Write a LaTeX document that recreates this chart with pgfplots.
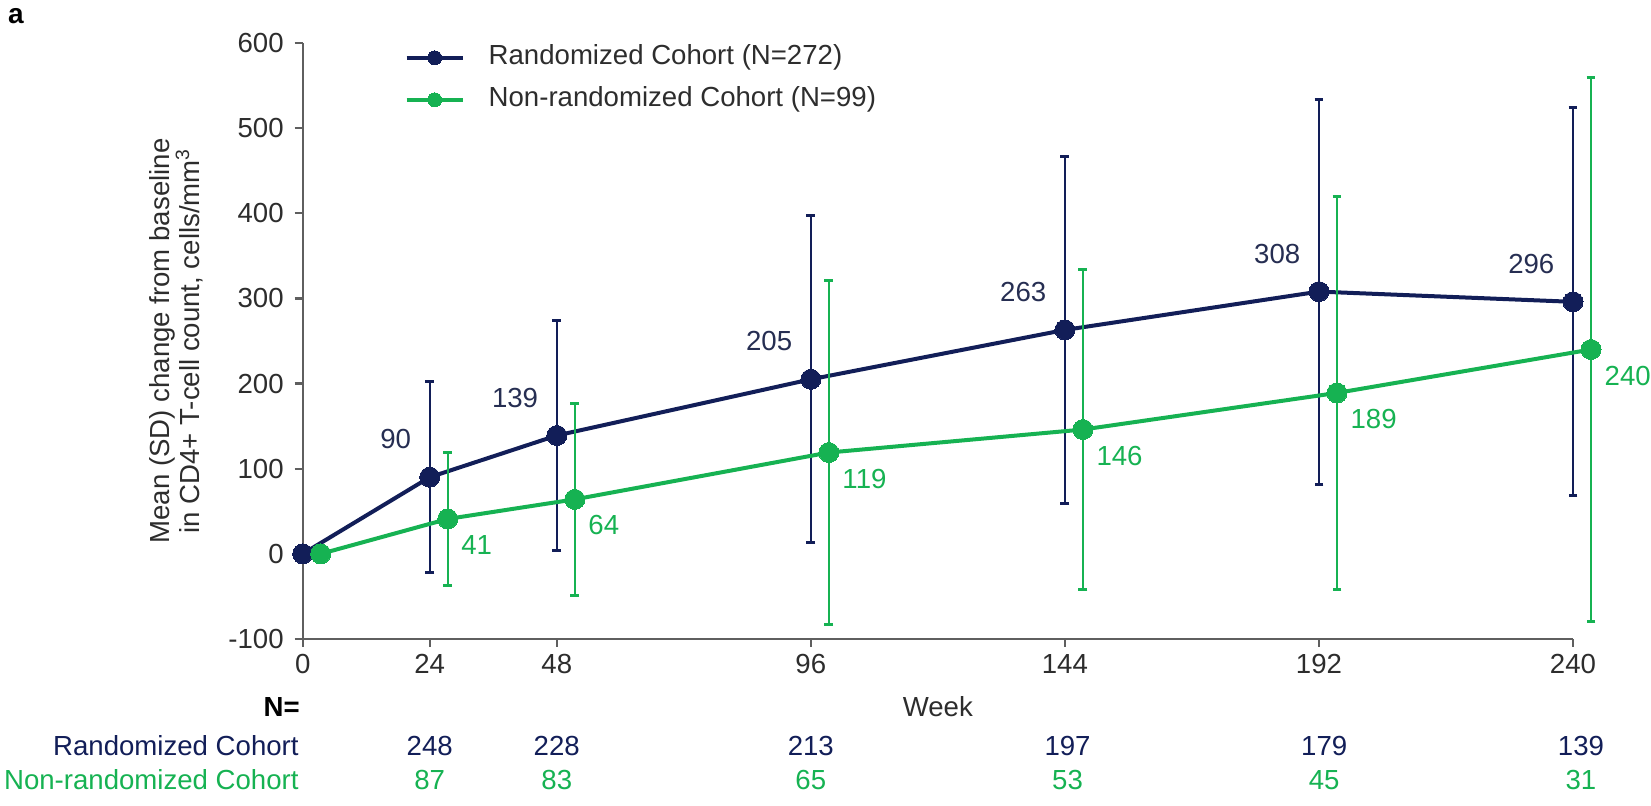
\documentclass[border=0pt]{standalone}
\usepackage{pgfplots}
\pgfplotsset{compat=1.18}
\usepackage{pgfplotstable}
\usepackage{fontspec}
\setmainfont{Liberation Sans}
\definecolor{navy}{RGB}{18,30,88}
\definecolor{navytxt}{RGB}{38,46,82}
\definecolor{grn}{RGB}{22,178,82}
\definecolor{axgray}{RGB}{95,95,95}
\definecolor{txt}{RGB}{45,45,45}

\pgfplotstableread{
x y e lab
0 0 0 {}
24 90 112 90
48 139 135 139
96 205 192 205
144 263 204 263
192 308 226 308
240 296 228 296
}\randtab
\pgfplotstableread{
x y e lab
3.4 0 0 {}
27.4 41 78 41
51.4 64 113 64
99.4 119 202 119
147.4 146 188 146
195.4 189 231 189
243.4 240 320 240
}\nonrandtab

\begin{document}
\begin{tikzpicture}[font=\fontsize{13.8}{15}\selectfont]
\useasboundingbox (0,0) rectangle (825.5pt,403pt);
\node[font=\fontsize{14}{16}\selectfont\bfseries, text=black] at (8pt,395pt) {a};
\begin{axis}[
  at={(151.35pt,83.5pt)}, anchor=south west,
  scale only axis, width=635.15pt, height=298pt,
  xmin=0, xmax=240, ymin=-100, ymax=600,
  axis lines=left, axis line style={-, draw=axgray, line width=1.1pt},
  xtick={0,24,48,96,144,192,240},
  ytick={-100,0,100,200,300,400,500,600},
  tick align=outside, major tick length=4pt,
  tick style={draw=axgray, line width=1.1pt},
  /pgf/number format/assume math mode=true,
  ticklabel style={text=txt},
  yticklabel style={xshift=-2pt},
  clip=false,
  ylabel={Mean (SD) change from baseline\\in CD4+ T-cell count, cells/mm\textsuperscript{3}},
  ylabel style={align=center, text=txt, at={(axis description cs:-0.0995,0.5)}, anchor=center},
  xlabel={Week},
  xlabel style={text=txt, at={(axis description cs:0.5,0)}, anchor=mid, yshift=-36pt},
  legend style={at={(axis description cs:0,1)}, anchor=north west, xshift=51pt, yshift=-1pt,
    draw=none, fill=none, inner sep=0pt, outer sep=0pt, row sep=8.2pt,
    nodes={inner sep=0pt, text height=9.9pt, text depth=2.9pt, text=txt},
    /tikz/every odd column/.append style={column sep=12pt}},
  legend cell align=left,
  legend image code/.code={\draw[#1, mark size=3.5pt, mark repeat=2, mark phase=2] plot coordinates {(0pt,0pt) (14pt,0pt) (28pt,0pt)};},
]
\addplot[navy, line width=2pt, mark=*, mark size=5pt, mark options={fill=navy, draw=navy, line width=0pt},
  nodes near coords, point meta=explicit symbolic,
  nodes near coords style={anchor=east, xshift=-6pt, yshift=19pt, text=navytxt},
  error bars/.cd, y dir=both, y explicit,
  error bar style={line width=1pt, draw=navy},
  error mark options={rotate=90, mark size=2.2pt, line width=1.5pt, draw=navy}]
  table[x=x, y=y, y error=e, meta=lab] {\randtab};
\addlegendentry{Randomized Cohort (N=272)}
\addplot[grn, line width=2pt, mark=*, mark size=5pt, mark options={fill=grn, draw=grn, line width=0pt},
  nodes near coords, point meta=explicit symbolic,
  nodes near coords style={anchor=west, xshift=3.5pt, yshift=-13pt, text=grn},
  error bars/.cd, y dir=both, y explicit,
  error bar style={line width=1pt, draw=grn},
  error mark options={rotate=90, mark size=2.2pt, line width=1.5pt, draw=grn}]
  table[x=x, y=y, y error=e, meta=lab] {\nonrandtab};
\addlegendentry{Non-randomized Cohort (N=99)}

\node[anchor=mid east, text=black, font=\fontsize{13.8}{15}\selectfont\bfseries] at (axis cs:0,-100) [xshift=2pt, yshift=-36pt] {N=};
\node[anchor=mid east, text=navy] at (axis cs:0,-100) [xshift=1.5pt, yshift=-55.5pt] {Randomized Cohort};
\node[anchor=mid east, text=grn] at (axis cs:0,-100) [xshift=1.5pt, yshift=-72.5pt] {Non-randomized Cohort};
\node[anchor=mid, text=navy] at (axis cs:24,-100) [yshift=-55.5pt] {248};
\node[anchor=mid, text=navy] at (axis cs:48,-100) [yshift=-55.5pt] {228};
\node[anchor=mid, text=navy] at (axis cs:96,-100) [yshift=-55.5pt] {213};
\node[anchor=mid, text=navy] at (axis cs:144.5,-100) [yshift=-55.5pt] {197};
\node[anchor=mid, text=navy] at (axis cs:193,-100) [yshift=-55.5pt] {179};
\node[anchor=mid, text=navy] at (axis cs:241.5,-100) [yshift=-55.5pt] {139};
\node[anchor=mid, text=grn] at (axis cs:24,-100) [yshift=-72.5pt] {87};
\node[anchor=mid, text=grn] at (axis cs:48,-100) [yshift=-72.5pt] {83};
\node[anchor=mid, text=grn] at (axis cs:96,-100) [yshift=-72.5pt] {65};
\node[anchor=mid, text=grn] at (axis cs:144.5,-100) [yshift=-72.5pt] {53};
\node[anchor=mid, text=grn] at (axis cs:193,-100) [yshift=-72.5pt] {45};
\node[anchor=mid, text=grn] at (axis cs:241.5,-100) [yshift=-72.5pt] {31};
\end{axis}
\end{tikzpicture}
\end{document}
